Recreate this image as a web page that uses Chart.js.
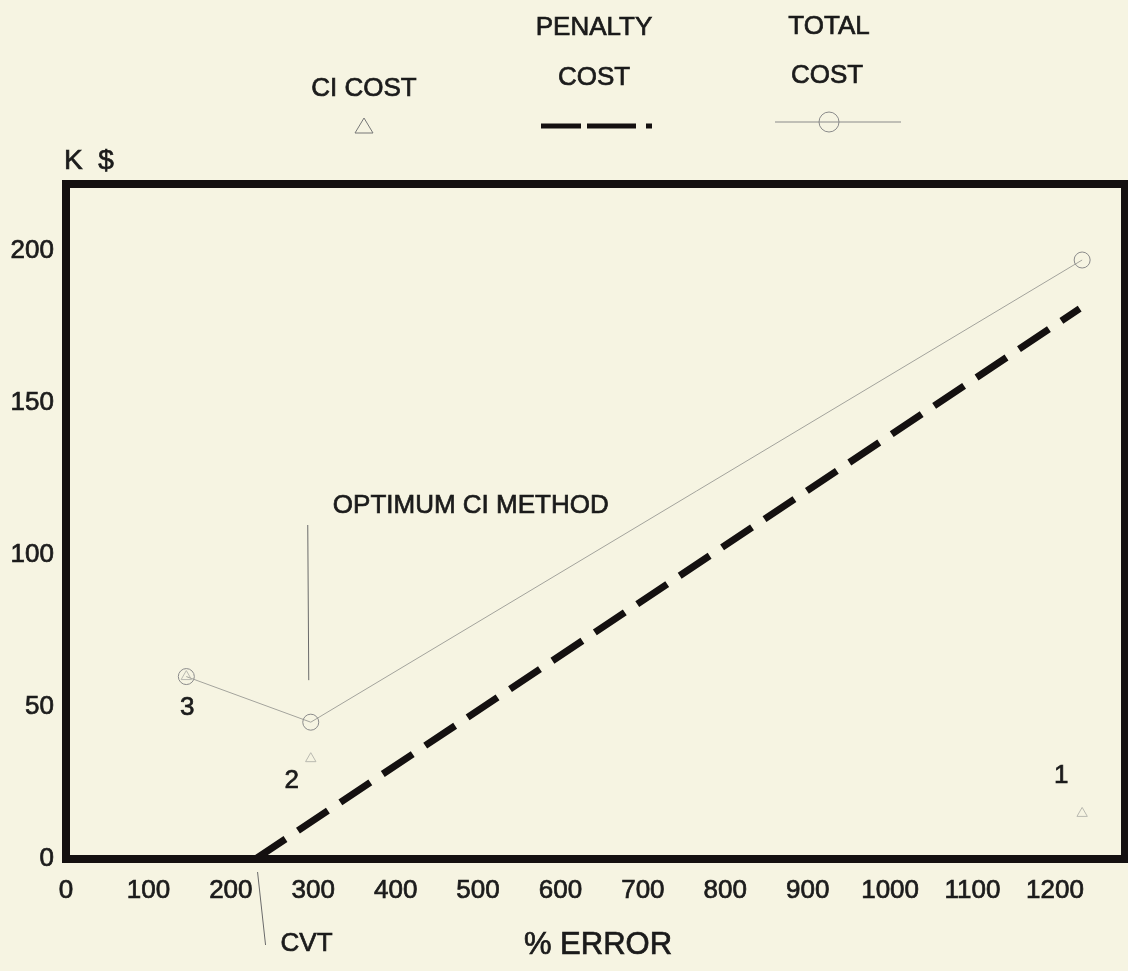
<!DOCTYPE html>
<html>
<head>
<meta charset="utf-8">
<title>CI cost vs % error</title>
<script src="https://cdn.jsdelivr.net/npm/chart.js@4.4.1/dist/chart.umd.min.js"></script>
<style>
  html, body { margin: 0; padding: 0; background: #f6f4e2; overflow: hidden; }
  #wrap { width: 1128px; height: 971px; position: relative; }
</style>
</head>
<body>
<div id="wrap"><canvas id="costChart"></canvas></div>
<script>
// CI methods, left to right: 3, 2, 1
const methodLabels = ["3", "2", "1"];
const errorPct = [146, 297, 1233];
const ciCost = [60, 33, 15];
const totalCost = [60, 45, 197];

// Penalty cost line, starting at the CVT
const penaltyPct = [230, 1230];
const penaltyCost = [0, 181];

// Axis ticks
const xTicks = [0, 100, 200, 300, 400, 500, 600, 700, 800, 900, 1000, 1100, 1200];
const yTicks = [0, 50, 100, 150, 200];

const FONT = "'Liberation Sans', Arial, sans-serif";
const INK = "#1b1b1b";

function toPoints(xs, ys) {
  return xs.map((x, i) => ({ x: x, y: ys[i] }));
}

// text with a thin outline so it reads as heavy as the scan
function heavyText(ctx, str, x, y) {
  ctx.fillText(str, x, y);
  ctx.strokeText(str, x, y);
}

// Thick black frame around the plot area
const framePlugin = {
  id: "frame",
  afterDatasetsDraw(chart) {
    const { ctx, chartArea: a } = chart;
    ctx.save();
    ctx.strokeStyle = "#141010";
    ctx.lineWidth = 8;
    ctx.strokeRect(a.left, a.top, a.right - a.left, a.bottom - a.top);
    ctx.restore();
  },
};

// Labels, pointers and the legend block at the top
const notesPlugin = {
  id: "notes",
  afterDraw(chart) {
    const ctx = chart.ctx;
    const xs = chart.scales.x;
    const ys = chart.scales.y;
    ctx.save();
    ctx.fillStyle = INK;
    ctx.textAlign = "center";
    ctx.textBaseline = "middle";

    const px = errorPct.map((v) => xs.getPixelForValue(v));
    const optY = ys.getPixelForValue(totalCost[1]);
    const cvt = xs.getPixelForValue(penaltyPct[0]);

    // pointer lines
    ctx.strokeStyle = "#6a6a6a";
    ctx.lineWidth = 1;
    ctx.beginPath();
    ctx.moveTo(px[1] - 3, 525);
    ctx.lineTo(px[1] - 2, optY - 42);
    ctx.stroke();
    ctx.beginPath();
    ctx.moveTo(cvt + 2, 872);
    ctx.lineTo(cvt + 10, 945);
    ctx.stroke();

    ctx.strokeStyle = INK;
    ctx.lineWidth = 0.7;

    // method numbers
    ctx.font = "26px " + FONT;
    heavyText(ctx, methodLabels[0], px[0] + 1, ys.getPixelForValue(totalCost[0]) + 31);
    heavyText(ctx, methodLabels[1], px[1] - 19, ys.getPixelForValue(ciCost[1]) + 22);
    heavyText(ctx, methodLabels[2], px[2] - 21, ys.getPixelForValue(ciCost[2]) - 38);

    heavyText(ctx, "OPTIMUM CI METHOD", px[1] + 160, 506);
    ctx.textAlign = "left";
    heavyText(ctx, "CVT", cvt + 25, 944);

    // axis titles
    ctx.textAlign = "center";
    ctx.font = "31px " + FONT;
    heavyText(ctx, "% ERROR", 598, 945);
    ctx.textAlign = "left";
    ctx.font = "28px " + FONT;
    heavyText(ctx, "K  $", 64, 161);

    // legend
    ctx.textAlign = "center";
    ctx.font = "26px " + FONT;
    heavyText(ctx, "CI COST", 364, 89);
    heavyText(ctx, "PENALTY", 594, 28);
    heavyText(ctx, "COST", 594, 78);
    heavyText(ctx, "TOTAL", 829, 27);
    heavyText(ctx, "COST", 827, 76);

    ctx.strokeStyle = "#777";
    ctx.lineWidth = 1;
    ctx.beginPath();
    ctx.moveTo(364, 118);
    ctx.lineTo(373, 133);
    ctx.lineTo(355, 133);
    ctx.closePath();
    ctx.stroke();

    ctx.strokeStyle = "#141010";
    ctx.lineWidth = 5;
    ctx.setLineDash([40, 6, 49, 10, 6, 60]);
    ctx.beginPath();
    ctx.moveTo(541, 126);
    ctx.lineTo(652, 126);
    ctx.stroke();
    ctx.setLineDash([]);

    ctx.strokeStyle = "#8a8a8a";
    ctx.lineWidth = 1;
    ctx.beginPath();
    ctx.moveTo(775, 122);
    ctx.lineTo(901, 122);
    ctx.stroke();
    ctx.beginPath();
    ctx.arc(829, 122, 10, 0, Math.PI * 2);
    ctx.stroke();
    ctx.restore();
  },
};

new Chart(document.getElementById("costChart"), {
  type: "scatter",
  data: {
    datasets: [
      {
        label: "CI COST",
        data: toPoints(errorPct, ciCost),
        showLine: false,
        pointStyle: "triangle",
        pointRadius: 6,
        pointBorderColor: "#b9b9b0",
        pointBackgroundColor: "rgba(0,0,0,0)",
        pointBorderWidth: 1,
      },
      {
        label: "PENALTY COST",
        data: toPoints(penaltyPct, penaltyCost),
        showLine: true,
        borderColor: "#141010",
        borderWidth: 7,
        borderDash: [36, 15],
        borderCapStyle: "butt",
        pointRadius: 0,
      },
      {
        label: "TOTAL COST",
        data: toPoints(errorPct, totalCost),
        showLine: true,
        borderColor: "#a3a39c",
        borderWidth: 1,
        pointStyle: "circle",
        pointRadius: 8,
        pointBorderColor: "#8a8a8a",
        pointBackgroundColor: "rgba(0,0,0,0)",
        pointBorderWidth: 1,
      },
    ],
  },
  options: {
    responsive: true,
    maintainAspectRatio: false,
    animation: false,
    layout: { autoPadding: false, padding: { top: 184, right: 3, left: 0, bottom: 0 } },
    plugins: {
      legend: { display: false },
      tooltip: { enabled: false },
    },
    scales: {
      x: {
        type: "linear",
        min: 0,
        max: 1285,
        grid: { display: false, drawTicks: false },
        border: { display: false },
        afterBuildTicks: (axis) => {
          axis.ticks = xTicks.map((v) => ({ value: v }));
        },
        afterFit: (scale) => {
          scale.height = 112;
          scale.paddingLeft = 0;
          scale.paddingRight = 0;
        },
        ticks: {
          color: INK,
          font: { family: FONT, size: 26 },
          textStrokeColor: INK,
          textStrokeWidth: 0.7,
          padding: 16,
          maxRotation: 0,
          autoSkip: false,
          callback: (v) => String(v),
        },
      },
      y: {
        type: "linear",
        min: 0,
        max: 222,
        grid: { display: false, drawTicks: false },
        border: { display: false },
        afterBuildTicks: (axis) => {
          axis.ticks = yTicks.map((v) => ({ value: v }));
        },
        afterFit: (scale) => {
          scale.width = 66;
        },
        ticks: {
          color: INK,
          font: { family: FONT, size: 26 },
          textStrokeColor: INK,
          textStrokeWidth: 0.7,
          padding: 12,
          callback: (v) => String(v),
        },
      },
    },
  },
  plugins: [framePlugin, notesPlugin],
});
</script>
</body>
</html>
